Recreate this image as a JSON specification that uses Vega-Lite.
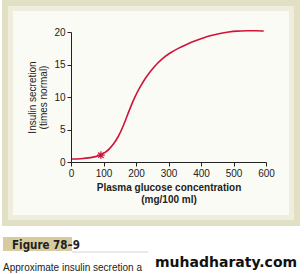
{
  "$schema": "https://vega.github.io/schema/vega-lite/v6.json",
  "width": 195,
  "height": 130,
  "autosize": {"type": "none"},
  "padding": {"left": 71, "top": 32, "right": 38, "bottom": 112},
  "background": "white",
  "config": {"view": {"stroke": null}, "font": "Liberation Sans"},
  "layer": [
    {
      "data": {"values": [{"part": "frame"}]},
      "mark": {"type": "rect", "fill": null, "stroke": "#e2e0c4", "strokeWidth": 6, "clip": false},
      "encoding": {
        "x": {
          "datum": -203.1, "type": "quantitative",
          "scale": {"domain": [0, 600], "nice": false, "zero": false},
          "axis": {
            "zindex": 2,
            "tickCount": 7,
            "values": [0, 100, 200, 300, 400, 500, 600],
            "labelOverlap": false, "labelFlush": false,
            "title": ["Plasma glucose concentration", "(mg/100 ml)"],
            "titleFont": "Liberation Sans", "titleFontWeight": "bold", "titleFontSize": 10, "titleColor": "#222222",
            "titlePadding": 4, "titleLineHeight": 12,
            "labelFont": "Liberation Sans", "labelFontSize": 10, "labelColor": "#222222", "labelPadding": 2,
            "grid": false, "domainColor": "#222222", "tickColor": "#222222", "tickSize": 4
          }
        },
        "x2": {"datum": 695.4},
        "y": {
          "datum": 24.46, "type": "quantitative",
          "scale": {"domain": [0, 20], "nice": false},
          "axis": {
            "zindex": 2,
            "tickCount": 5,
            "values": [0, 5, 10, 15, 20],
            "labelOverlap": false, "labelFlush": false,
            "title": ["Insulin secretion", "(times normal)"],
            "titleFont": "Liberation Sans", "titleFontWeight": "normal", "titleFontSize": 10, "titleColor": "#222222",
            "titlePadding": 5, "titleLineHeight": 11,
            "labelFont": "Liberation Sans", "labelFontSize": 10, "labelColor": "#222222", "labelPadding": 2,
            "grid": false, "domainColor": "#222222", "tickColor": "#222222", "tickSize": 4
          }
        },
        "y2": {"datum": -9.38}
      }
    },
    {
      "data": {"values": [{"part": "inner"}]},
      "mark": {"type": "rect", "fill": "#fbfbf5", "stroke": "#efeedc", "strokeWidth": 5, "clip": false},
      "encoding": {
        "x": {"datum": -186.2, "type": "quantitative"},
        "x2": {"datum": 678.5},
        "y": {"datum": 23.62, "type": "quantitative"},
        "y2": {"datum": -8.54}
      }
    },
    {
      "data": {"values": [{"part": "figbox"}]},
      "mark": {"type": "rect", "fill": "#d8cba0", "clip": false},
      "encoding": {
        "x": {"datum": -209.2, "type": "quantitative"},
        "x2": {"datum": 3.1},
        "y": {"datum": -11.54, "type": "quantitative"},
        "y2": {"datum": -13.69}
      }
    },
    {
      "data": {"values": [{"part": "figline"}]},
      "mark": {"type": "rule", "stroke": "#d4d4d4", "strokeWidth": 1, "clip": false},
      "encoding": {
        "x": {"datum": 3.1, "type": "quantitative"},
        "x2": {"datum": 236.9},
        "y": {"datum": -13.85, "type": "quantitative"}
      }
    },
    {
      "data": {"values": [{"label": "Figure 78–9"}]},
      "mark": {"type": "text", "align": "left", "baseline": "alphabetic", "font": "Liberation Sans Narrow, DejaVu Sans Condensed, sans-serif", "fontWeight": "bold", "fontSize": 11.5, "fill": "#1e1e1e", "clip": false},
      "encoding": {
        "x": {"datum": -181.5, "type": "quantitative"},
        "y": {"datum": -13.38, "type": "quantitative"},
        "text": {"field": "label"}
      }
    },
    {
      "data": {"values": [{"label": "Approximate insulin secretion a"}]},
      "mark": {"type": "text", "align": "left", "baseline": "alphabetic", "font": "Liberation Sans", "fontSize": 10, "fill": "#222222", "clip": false},
      "encoding": {
        "x": {"datum": -209.2, "type": "quantitative"},
        "y": {"datum": -16.77, "type": "quantitative"},
        "text": {"field": "label"}
      }
    },
    {
      "data": {"values": [{"label": "muhadharaty.com"}]},
      "mark": {"type": "text", "align": "left", "baseline": "alphabetic", "font": "DejaVu Sans", "fontWeight": "bold", "fontSize": 14, "fill": "#111111", "clip": false},
      "encoding": {
        "x": {"datum": 258.5, "type": "quantitative"},
        "y": {"datum": -16.15, "type": "quantitative"},
        "text": {"field": "label"}
      }
    },
    {
      "data": {"values": [
        {"glucose": 0, "insulin": 0.45},
        {"glucose": 30, "insulin": 0.5},
        {"glucose": 60, "insulin": 0.62},
        {"glucose": 92, "insulin": 1.05},
        {"glucose": 105, "insulin": 1.45},
        {"glucose": 118, "insulin": 2.0},
        {"glucose": 130, "insulin": 2.7},
        {"glucose": 145, "insulin": 3.8},
        {"glucose": 160, "insulin": 5.4},
        {"glucose": 178, "insulin": 7.8},
        {"glucose": 195, "insulin": 9.9},
        {"glucose": 213, "insulin": 11.6},
        {"glucose": 230, "insulin": 13.0},
        {"glucose": 254, "insulin": 14.6},
        {"glucose": 280, "insulin": 15.9},
        {"glucose": 305, "insulin": 16.8},
        {"glucose": 330, "insulin": 17.5},
        {"glucose": 356, "insulin": 18.1},
        {"glucose": 380, "insulin": 18.6},
        {"glucose": 408, "insulin": 19.1},
        {"glucose": 430, "insulin": 19.45},
        {"glucose": 459, "insulin": 19.8},
        {"glucose": 485, "insulin": 20.0},
        {"glucose": 510, "insulin": 20.15},
        {"glucose": 540, "insulin": 20.2},
        {"glucose": 570, "insulin": 20.2},
        {"glucose": 593, "insulin": 20.15}
      ]},
      "mark": {"type": "line", "stroke": "#cf1438", "strokeWidth": 1.6, "interpolate": "basis", "clip": false},
      "encoding": {
        "x": {"field": "glucose", "type": "quantitative"},
        "y": {"field": "insulin", "type": "quantitative"}
      }
    },
    {
      "data": {"values": [{"glucose": 92, "insulin": 1.05}]},
      "mark": {"type": "point", "shape": "M-1,0L1,0M0,-1L0,1M-0.7,-0.7L0.7,0.7M-0.7,0.7L0.7,-0.7", "stroke": "#cf1438", "strokeWidth": 1.2, "size": 60, "filled": false, "opacity": 1, "clip": false},
      "encoding": {
        "x": {"field": "glucose", "type": "quantitative"},
        "y": {"field": "insulin", "type": "quantitative"}
      }
    }
  ]
}
